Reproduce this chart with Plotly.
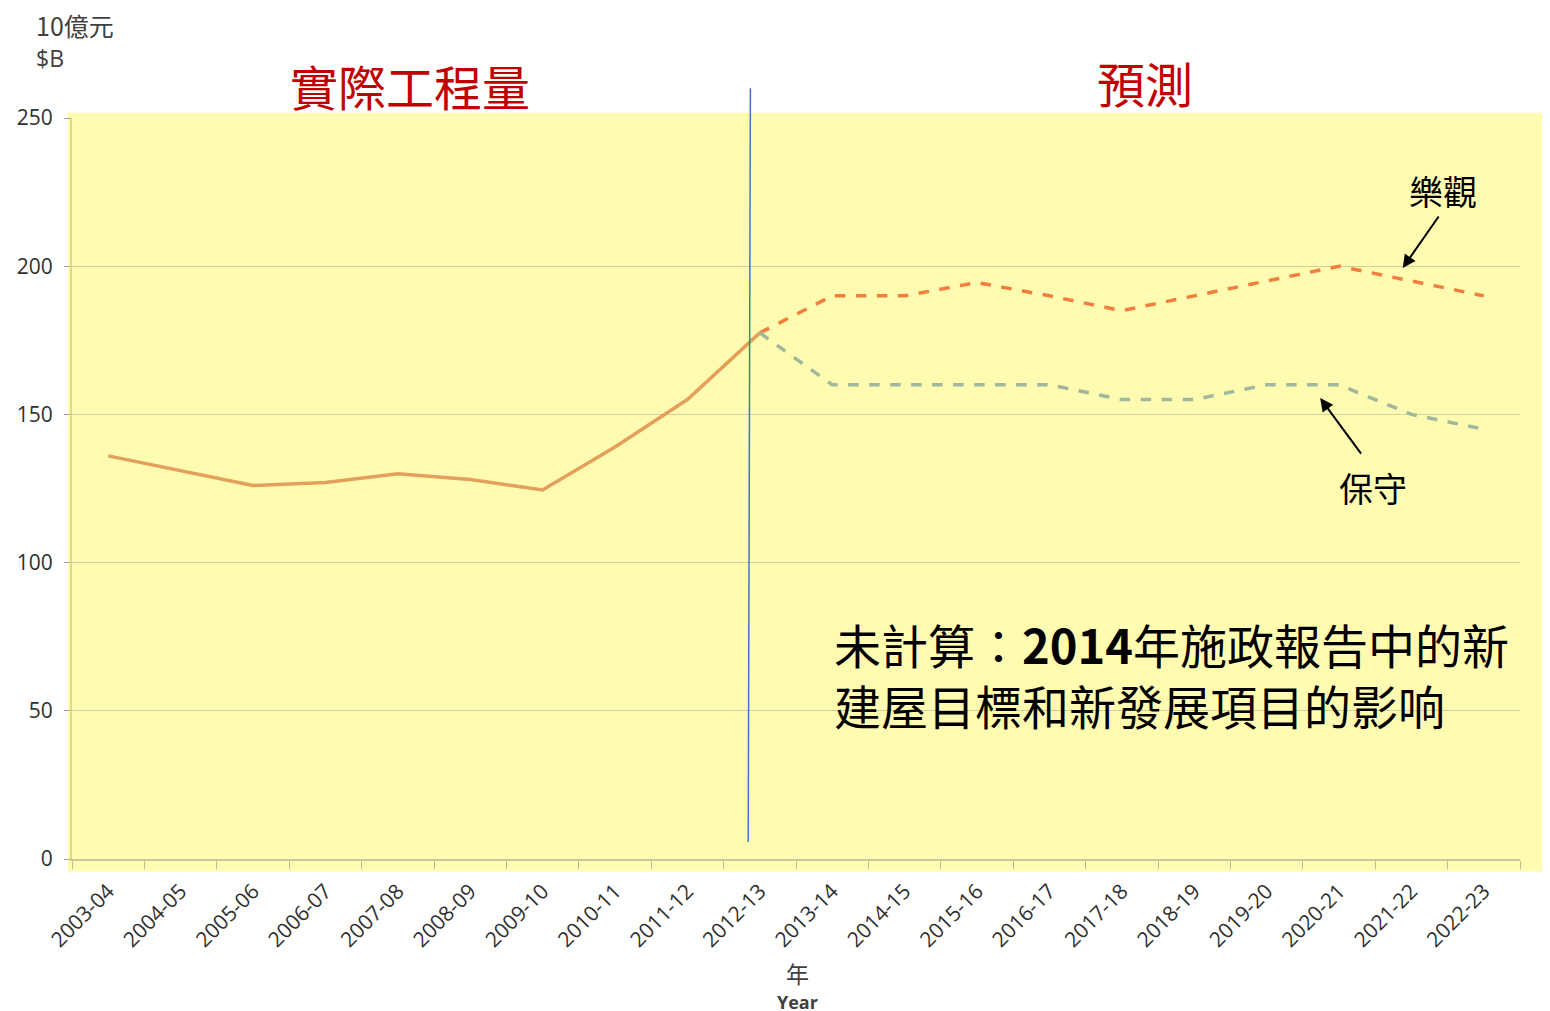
import plotly.graph_objects as go

years = ["2003-04","2004-05","2005-06","2006-07","2007-08","2008-09","2009-10",
         "2010-11","2011-12","2012-13","2013-14","2014-15","2015-16","2016-17",
         "2017-18","2018-19","2019-20","2020-21","2021-22","2022-23"]
actual = [136, 131, 126, 127, 130, 128, 124.5, 139, 155, 177.5]
optimistic = [177.5, 190, 190, 194.5, 190, 185, 190, 195, 200, 195, 190]
conservative = [177.5, 160, 160, 160, 160, 155, 155, 160, 160, 150, 145]
yticks = [0, 50, 100, 150, 200, 250]

cjk = "Noto Sans CJK TC, Noto Sans CJK SC, sans-serif"
tickfont = "Open Sans, Noto Sans, sans-serif"

fig = go.Figure()
fig.add_trace(go.Scatter(x=years[:10], y=actual, mode="lines",
                         line=dict(color="#E2A05A", width=3.5), showlegend=False))
fig.add_trace(go.Scatter(x=years[9:], y=optimistic, mode="lines",
                         line=dict(color="#F27E3E", width=3.5, dash="dash"), showlegend=False))
fig.add_trace(go.Scatter(x=years[9:], y=conservative, mode="lines",
                         line=dict(color="#9FB79C", width=3.5, dash="dash"), showlegend=False))

# yellow backdrop
fig.add_shape(type="rect", xref="paper", yref="paper", x0=-0.003, x1=1.03, y0=-0.017, y1=1.007,
              fillcolor="#FFFCB2", line=dict(width=0), layer="below")
# divider line
fig.add_shape(type="line", xref="x", yref="paper", x0=8.87, x1=8.84, y0=1.04, y1=0.023,
              line=dict(color="#4472C4", width=1.5))

fig.add_annotation(x=0.2334, y=1.0445, xref="paper", yref="paper", text="實際工程量",
                   showarrow=False, font=dict(family=cjk, size=48, color="#C00000"),
                   xanchor="center", yanchor="middle")
fig.add_annotation(x=0.741, y=1.0486, xref="paper", yref="paper", text="預測",
                   showarrow=False, font=dict(family=cjk, size=48, color="#C00000"),
                   xanchor="center", yanchor="middle")

fig.add_annotation(x=17.88, y=199.4, xref="x", yref="y", ax=37, ay=-53,
                   text="", showarrow=True, arrowhead=2, arrowsize=1.3, arrowwidth=2, arrowcolor="black")
fig.add_annotation(x=16.74, y=155.5, xref="x", yref="y", ax=42, ay=57,
                   text="", showarrow=True, arrowhead=2, arrowsize=1.3, arrowwidth=2, arrowcolor="black")
fig.add_annotation(x=0.9468, y=0.9028, xref="paper", yref="paper", text="樂觀", showarrow=False,
                   font=dict(family=cjk, size=34, color="black"), xanchor="center", yanchor="middle")
fig.add_annotation(x=0.8985, y=0.502, xref="paper", yref="paper", text="保守", showarrow=False,
                   font=dict(family=cjk, size=34, color="black"), xanchor="center", yanchor="middle")

fig.add_annotation(x=0.5249, y=0.2497, xref="paper", yref="paper",
                   text="未計算：<b>2014</b>年施政報告中的新<br>建屋目標和新發展項目的影响",
                   showarrow=False, align="left", xanchor="left", yanchor="middle",
                   font=dict(family=cjk, size=47, color="black"))

fig.add_annotation(x=-0.0265, y=1.1255, xref="paper", yref="paper", text="10億元",
                   showarrow=False, align="left", xanchor="left", yanchor="middle",
                   font=dict(family=cjk, size=25, color="#404040"))
fig.add_annotation(x=-0.0265, y=1.081, xref="paper", yref="paper", text="$B",
                   showarrow=False, align="left", xanchor="left", yanchor="middle",
                   font=dict(family=tickfont, size=23, color="#404040"))
fig.add_annotation(x=0.501, y=-0.154, xref="paper", yref="paper", text="年",
                   showarrow=False, xanchor="center", yanchor="middle",
                   font=dict(family=cjk, size=23, color="#404040"))
fig.add_annotation(x=0.501, y=-0.193, xref="paper", yref="paper", text="<b>Year</b>",
                   showarrow=False, xanchor="center", yanchor="middle",
                   font=dict(family=tickfont, size=18, color="#404040"))

fig.update_layout(
    width=1550, height=1011,
    margin=dict(l=64, r=38, t=110, b=160, autoexpand=False),
    paper_bgcolor="white", plot_bgcolor="#FFFCB2",
    showlegend=False,
)
fig.update_xaxes(type="category", categoryorder="array", categoryarray=years,
                 tickangle=-45, tickfont=dict(family=tickfont, size=21, color="#303030"),
                 ticks="outside", tickson="boundaries", ticklen=8, tickcolor="#BDBD90",
                 ticklabelstandoff=10, automargin=False,
                 showline=True, linecolor="#C8C89A", linewidth=1.5, showgrid=False,
                 range=[-0.5, 19.5])
fig.update_yaxes(range=[0, 250], tickvals=yticks,
                 tickfont=dict(family=tickfont, size=21, color="#303030"),
                 ticks="outside", ticklen=6, tickcolor="#A0A0A0",
                 ticklabelstandoff=7, automargin=False,
                 showline=True, linecolor="#D8D890", linewidth=2,
                 showgrid=True, gridcolor="#CFCFA0", gridwidth=1, zeroline=False)

fig.write_html("out.html")
